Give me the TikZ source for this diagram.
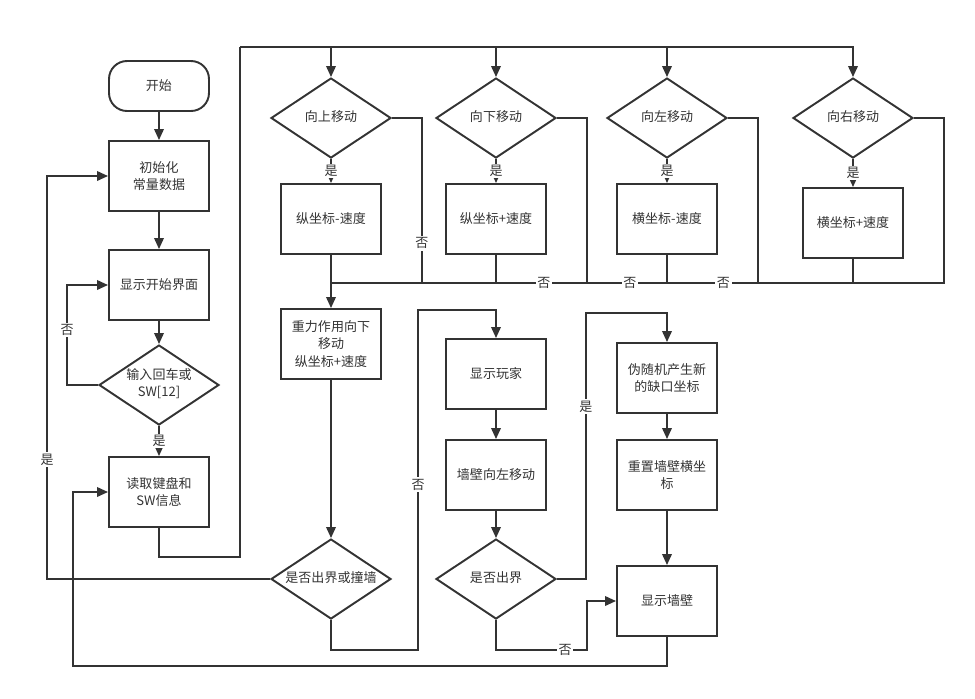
\documentclass[tikz,border=0pt]{standalone}
\usepackage{fontspec}
\setmainfont{Noto Sans CJK SC}
\usetikzlibrary{arrows.meta,shapes.geometric}
\definecolor{linegray}{HTML}{333333}
\newcommand{\dtext}[1]{\makebox[0pt]{\begin{tabular}{@{}c@{}}#1\end{tabular}}}

\begin{document}
\begin{tikzpicture}[
  x=0.02cm, y=-0.02cm,
  every node/.style={font=\fontsize{7.4}{9.7}\selectfont, text=linegray},
  terminal/.style={draw=linegray, line width=1.1pt, rounded corners=0.36cm, minimum width=2cm, minimum height=1cm},
  box/.style={draw=linegray, line width=1.1pt, minimum width=2cm, minimum height=1.4cm, align=center},
  decision/.style={draw=linegray, line width=1.1pt, diamond, inner sep=0pt, minimum width=2.4cm, minimum height=1.6cm},
  lbl/.style={fill=white, inner sep=1pt},
  link/.style={draw=linegray, line width=1.1pt},
  arrow/.style={link, -{Triangle[length=2.2mm, width=1.9mm]}}
]
  \useasboundingbox (0,0) rectangle (975,698);

  % left column
  \node[terminal] (start) at (159,86) {开始};
  \node[box] (init) at (159,176) {初始化\\常量数据};
  \node[box] (showstart) at (159,285) {显示开始界面};
  \node[decision] (enterchk) at (159,385) {\dtext{输入回车或\\SW[12]}};
  \node[box] (readkey) at (159,492) {读取键盘和\\SW信息};

  % direction checks
  \node[decision] (mvup) at (331,118) {\dtext{向上移动}};
  \node[decision] (mvdown) at (496,118) {\dtext{向下移动}};
  \node[decision] (mvleft) at (667,118) {\dtext{向左移动}};
  \node[decision] (mvright) at (853,118) {\dtext{向右移动}};
  \node[box] (upbox) at (331,219) {纵坐标-速度};
  \node[box] (downbox) at (496,219) {纵坐标+速度};
  \node[box] (leftbox) at (667,219) {横坐标-速度};
  \node[box] (rightbox) at (853,223) {横坐标+速度};

  % gravity and walls
  \node[box] (gravity) at (331,344) {重力作用向下\\移动\\纵坐标+速度};
  \node[decision] (hitchk) at (331,579) {\dtext{是否出界或撞墙}};
  \node[box] (player) at (496,374) {显示玩家};
  \node[box] (wallmove) at (496,475) {墙壁向左移动};
  \node[decision] (outchk) at (496,579) {\dtext{是否出界}};
  \node[box] (newgap) at (667,378) {伪随机产生新\\的缺口坐标};
  \node[box] (resetwall) at (667,475) {重置墙壁横坐\\标};
  \node[box] (showwall) at (667,601) {显示墙壁};

  \coordinate (toprail) at (240,47);
  \coordinate (merge) at (331,283);

  % start sequence
  \draw[arrow] (start) -- (init);
  \draw[arrow] (init) -- (showstart);
  \draw[arrow] (showstart) -- (enterchk);
  \draw[arrow] (enterchk) -- node[lbl]{是} (readkey);
  \draw[arrow] (enterchk.west) -- ++(-31,0) |- coordinate[pos=0.275] (nostart) (showstart.west);

  % into the direction checks
  \draw[link] (readkey.south) -- ++(0,29) -| (toprail);
  \foreach \d in {mvup,mvdown,mvleft,mvright}
    \draw[arrow] (toprail) -| (\d.north);
  \draw[arrow] (mvup) -- node[lbl]{是} (upbox);
  \draw[arrow] (mvdown) -- node[lbl]{是} (downbox);
  \draw[arrow] (mvleft) -- node[lbl]{是} (leftbox);
  \draw[arrow] (mvright) -- node[lbl]{是} (rightbox);

  % no branches and box outputs to the merge line
  \draw[link] (mvright.east) -- ++(30,0) |- coordinate[pos=0.68] (noright) (merge);
  \draw[link] (mvleft.east) -- ++(30,0) |- coordinate[pos=0.65] (noleft) (merge);
  \draw[link] (mvdown.east) -- ++(30,0) |- coordinate[pos=0.584] (nodown) (merge);
  \draw[link] (mvup.east) -- ++(30,0) |- coordinate[pos=0.38] (noup) (merge);
  \draw[link] (upbox) -- (merge);
  \draw[link] (downbox.south) -- (downbox.south |- merge);
  \draw[link] (leftbox.south) -- (leftbox.south |- merge);
  \draw[link] (rightbox.south) -- (rightbox.south |- merge);
  \draw[arrow] (merge) -- (gravity);

  % collision
  \draw[arrow] (gravity) -- (hitchk);
  \draw[arrow] (hitchk.west) -- ++(-223,0) |- coordinate[pos=0.148] (yeshit) (init.west);
  \draw[arrow] (hitchk.south) -- ++(0,30) -| coordinate[pos=0.743] (nohit) ++(87,-340) -| (player.north);

  % walls
  \draw[arrow] (player) -- (wallmove);
  \draw[arrow] (wallmove) -- (outchk);
  \draw[arrow] (outchk.east) -- ++(29,0) -- coordinate[pos=0.647] (yesout) ++(0,-266) -| (newgap.north);
  \draw[arrow] (newgap) -- (resetwall);
  \draw[arrow] (resetwall) -- (showwall);
  \draw[arrow] (outchk.south) -- ++(0,30) -- coordinate[pos=0.76] (noout) ++(91,0) |- (showwall.west);
  \draw[arrow] (showwall.south) -- ++(0,29) -- ++(-594,0) |- (readkey.west);

  % branch labels
  \node[lbl] at (nostart) {否};
  \node[lbl] at (noup) {否};
  \node[lbl] at (nodown) {否};
  \node[lbl] at (noleft) {否};
  \node[lbl] at (noright) {否};
  \node[lbl] at (yeshit) {是};
  \node[lbl] at (nohit) {否};
  \node[lbl] at (yesout) {是};
  \node[lbl] at (noout) {否};
\end{tikzpicture}
\end{document}
